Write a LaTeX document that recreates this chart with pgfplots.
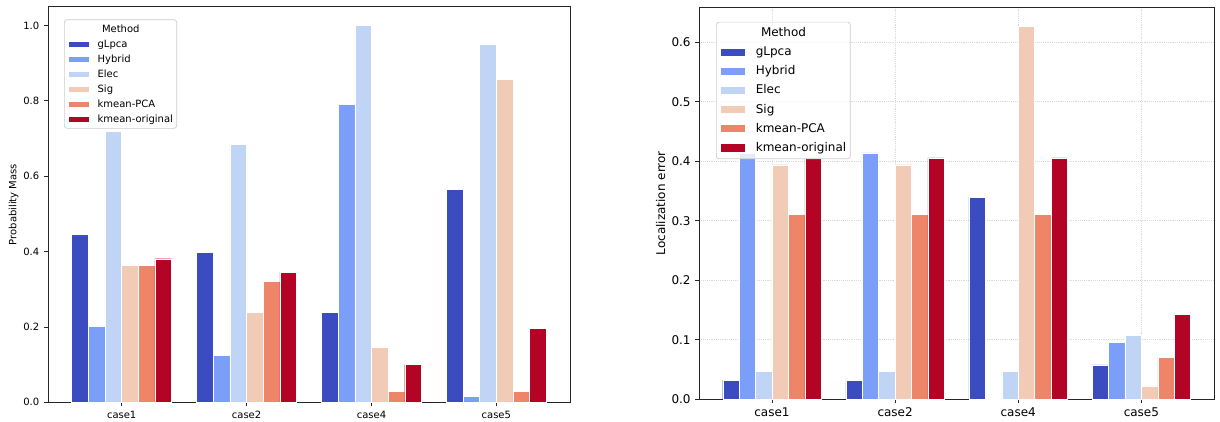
\documentclass[border=0pt]{standalone}
\usepackage{fontspec}
\setmainfont{DejaVu Sans}
\usepackage{pgfplots}
\pgfplotsset{compat=1.18}

% coolwarm, six steps
\definecolor{cA}{HTML}{3B4CC0}
\definecolor{cB}{HTML}{7B9FF9}
\definecolor{cC}{HTML}{C0D4F5}
\definecolor{cD}{HTML}{F2CBB7}
\definecolor{cE}{HTML}{EE8468}
\definecolor{cF}{HTML}{B40426}

\newlength\lwL
\newlength\lwR

\pgfplotsset{
  common/.style={
    scale only axis, ybar, bar width=0.1333,
    xmin=-0.59, xmax=3.59, ymin=0,
    xtick={0,1,2,3}, xticklabels={case1,case2,case4,case5},
    tick align=outside, tick pos=left, major tick length=3pt,
    axis line style={black!85, line width=0.6pt},
    every tick/.style={black!85, line width=0.6pt},
    /pgf/number format/assume math mode=true,
    yticklabel style={/pgf/number format/.cd, fixed, fixed zerofill, precision=1},
    legend cell align=left,
  },
  s/.style 2 args={
    fill=#1, draw=white, line width=0.35pt, bar shift=#2,
    legend image code/.code={
      \fill[##1, fill opacity=1, sharp corners] (0pt,-\ph) rectangle (\pw,\ph);
      \path (\pw+\pg,0pt);
    },
  },
}

\begin{document}
% widest legend entry in each panel, used to centre the legend title
\settowidth{\lwL}{\fontsize{7.5}{9}\selectfont kmean-original}%
\settowidth{\lwR}{\fontsize{9}{11}\selectfont kmean-original}%
\begin{tikzpicture}
\useasboundingbox (0,0) rectangle (915pt,315.75pt);

% ---------------- left: probability mass ----------------
\def\pw{15.5pt}\def\ph{2.15pt}\def\pg{6.3pt}
\begin{axis}[common,
  at={(36pt,14.03pt)}, anchor=south west,
  width=391.5pt, height=296.7pt,
  ymax=1.05, ytick={0,0.2,0.4,0.6,0.8,1.0},
  tick label style={font=\fontsize{7.5}{9}\selectfont},
  ylabel={Probability Mass},
  every axis y label/.style={at={(axis description cs:-0.066,0.5)}, rotate=90, anchor=center,
    font=\fontsize{7.5}{9}\selectfont},
  legend style={at={(rel axis cs:0.0307,0.968)}, anchor=north west,
    draw=black!20, line width=0.5pt, rounded corners=2pt,
    fill=white, fill opacity=0.8, text opacity=1, draw opacity=1,
    font=\fontsize{7.5}{9}\selectfont,
    inner xsep=2.8pt, inner ysep=3pt, row sep=3.25pt,
    nodes={inner sep=0pt, text height=6.3pt, text depth=1.7pt}},
]
\addlegendimage{empty legend}
\addlegendentry{\hspace*{-21.8pt}\makebox[\dimexpr\lwL+21.8pt\relax][c]{Method}}
\addplot[s={cA}{-0.3333}] coordinates {(0,0.446) (1,0.398) (2,0.2385) (3,0.565)};
\addlegendentry{gLpca}
\addplot[s={cB}{-0.2}] coordinates {(0,0.201) (1,0.125) (2,0.791) (3,0.0167)};
\addlegendentry{Hybrid}
\addplot[s={cC}{-0.0667}] coordinates {(0,0.719) (1,0.684) (2,1.0) (3,0.951)};
\addlegendentry{Elec}
\addplot[s={cD}{0.0667}] coordinates {(0,0.363) (1,0.238) (2,0.147) (3,0.857)};
\addlegendentry{Sig}
\addplot[s={cE}{0.2}] coordinates {(0,0.363) (1,0.321) (2,0.029) (3,0.029)};
\addlegendentry{kmean-PCA}
\addplot[s={cF}{0.3333}] coordinates {(0,0.381) (1,0.345) (2,0.0997) (3,0.196)};
\addlegendentry{kmean-original}
\end{axis}

% ---------------- right: localization error ----------------
\def\pw{18.25pt}\def\ph{3.1pt}\def\pg{8pt}
\begin{axis}[common,
  at={(524.5pt,16.28pt)}, anchor=south west,
  width=386pt, height=294pt,
  ymax=0.6585, ytick={0,0.1,0.2,0.3,0.4,0.5,0.6},
  grid=major, grid style={densely dotted, black!15, line width=0.5pt},
  tick label style={font=\fontsize{9}{11}\selectfont},
  ylabel={Localization error},
  every axis y label/.style={at={(axis description cs:-0.0754,0.5)}, rotate=90, anchor=center,
    font=\fontsize{9}{11}\selectfont},
  legend style={at={(rel axis cs:0.0324,0.963)}, anchor=north west,
    draw=black!20, line width=0.5pt, rounded corners=2pt,
    fill=white, fill opacity=0.8, text opacity=1, draw opacity=1,
    font=\fontsize{9}{11}\selectfont,
    inner xsep=3pt, inner ysep=3.5pt, row sep=4.6pt,
    nodes={inner sep=0pt, text height=7.5pt, text depth=2.2pt}},
]
\addlegendimage{empty legend}
\addlegendentry{\hspace*{-26.25pt}\makebox[\dimexpr\lwR+26.25pt\relax][c]{Method}}
\addplot[s={cA}{-0.3333}] coordinates {(0,0.032) (1,0.032) (2,0.339) (3,0.0577)};
\addlegendentry{gLpca}
\addplot[s={cB}{-0.2}] coordinates {(0,0.414) (1,0.414) (2,0) (3,0.0958)};
\addlegendentry{Hybrid}
\addplot[s={cC}{-0.0667}] coordinates {(0,0.047) (1,0.047) (2,0.047) (3,0.108)};
\addlegendentry{Elec}
\addplot[s={cD}{0.0667}] coordinates {(0,0.394) (1,0.394) (2,0.627) (3,0.0224)};
\addlegendentry{Sig}
\addplot[s={cE}{0.2}] coordinates {(0,0.311) (1,0.311) (2,0.311) (3,0.071)};
\addlegendentry{kmean-PCA}
\addplot[s={cF}{0.3333}] coordinates {(0,0.4055) (1,0.4055) (2,0.4055) (3,0.143)};
\addlegendentry{kmean-original}
\end{axis}
\end{tikzpicture}
\end{document}
